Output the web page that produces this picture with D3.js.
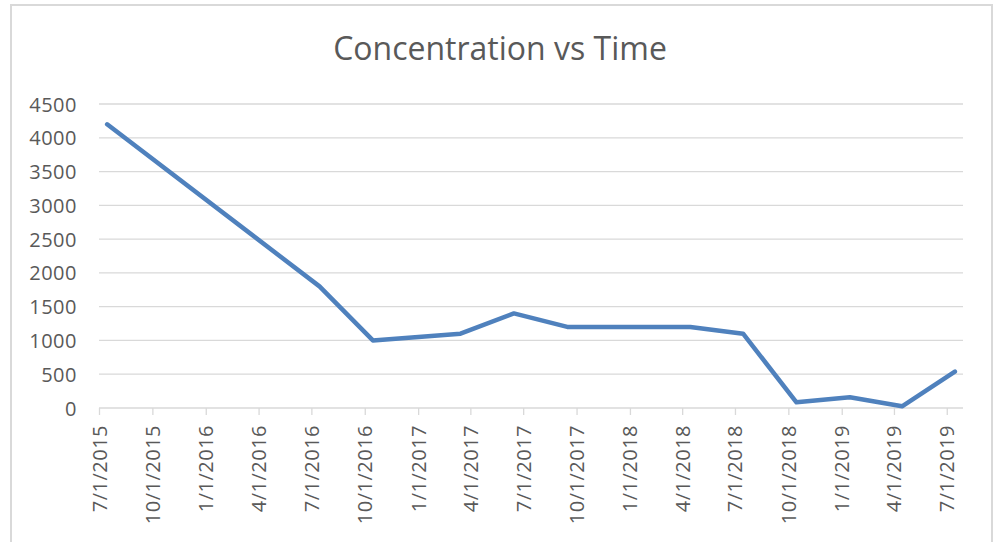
<!DOCTYPE html>
<html><head><meta charset="utf-8">
<script src="https://cdn.jsdelivr.net/npm/d3@7"></script>
<style>body{margin:0;background:#fff}svg{display:block}text{font-family:"Open Sans",sans-serif;fill:#595959}</style>
</head><body><div id="chart"></div>
<script>
const title = "Concentration vs Time";
const dates = ["2015-07-15","2016-07-15","2016-10-15","2017-03-15","2017-06-15","2017-09-15","2018-04-15","2018-07-15","2018-10-15","2019-01-15","2019-04-15","2019-07-15"];
const values = [4200,1800,1000,1100,1400,1200,1200,1100,85,160,25,540];
const xTickLabels = ["7/1/2015","10/1/2015","1/1/2016","4/1/2016","7/1/2016","10/1/2016","1/1/2017","4/1/2017","7/1/2017","10/1/2017","1/1/2018","4/1/2018","7/1/2018","10/1/2018","1/1/2019","4/1/2019","7/1/2019"];
const yTicks = [0,500,1000,1500,2000,2500,3000,3500,4000,4500];

const W=998,H=542;
const parse = d3.timeParse("%Y-%m-%d");
const parseTick = d3.timeParse("%m/%d/%Y");
const data = dates.map((d,i)=>({date:parse(d),value:values[i]}));
const tickDates = xTickLabels.map(parseTick);

const svg = d3.select("#chart").append("svg").attr("width",W).attr("height",H);
svg.append("rect").attr("x",11).attr("y",5).attr("width",981).attr("height",560)
  .attr("fill","#fff").attr("stroke","#d9d9d9").attr("stroke-width",2);

const x = d3.scaleTime().domain([parse("2015-07-01"),parse("2019-07-29")]).range([99,963]);
const y = d3.scaleLinear().domain([0,4500]).range([408,104]);

svg.append("text").attr("x",500).attr("y",60).attr("text-anchor","middle")
  .style("font-size","32px").text(title);

// gridlines
svg.append("g").selectAll("line").data(yTicks.filter(v=>v>0)).join("line")
  .attr("x1",x.range()[0]).attr("x2",x.range()[1])
  .attr("y1",d=>y(d)).attr("y2",d=>y(d))
  .attr("stroke","#d9d9d9").attr("stroke-width",1.3);

// y axis labels
const yAxis = d3.axisLeft(y).tickValues(yTicks).tickSize(0).tickPadding(0).tickFormat(d3.format("d"));
const gy = svg.append("g").attr("transform","translate(77,0)").call(yAxis);
gy.select(".domain").remove();
gy.selectAll("text").style("font-size","20px").style("letter-spacing","0.5px").attr("font-family",null).attr("fill","#595959").attr("dy","0.35em");

// x axis
const xAxis = d3.axisBottom(x).tickValues(tickDates).tickSize(7).tickPadding(0)
  .tickFormat((d,i)=>xTickLabels[i]);
const gx = svg.append("g").attr("transform","translate(0,408)").call(xAxis);
gx.select(".domain").attr("stroke","#d9d9d9").attr("stroke-width",1.3).attr("d","M99,0H963");
gx.selectAll(".tick line").attr("stroke","#d9d9d9").attr("stroke-width",1.3);
gx.selectAll("text").style("font-size","20px").style("letter-spacing","0.5px").attr("font-family",null).attr("fill","#595959")
  .attr("text-anchor","end").attr("transform","rotate(-90)")
  .attr("x",-17).attr("y",0).attr("dy","0.35em");

// line
svg.append("path").datum(data)
  .attr("fill","none").attr("stroke","#4f81bd").attr("stroke-width",4.5)
  .attr("stroke-linejoin","round").attr("stroke-linecap","round")
  .attr("d",d3.line().x(d=>x(d.date)).y(d=>y(d.value)));
</script></body></html>
